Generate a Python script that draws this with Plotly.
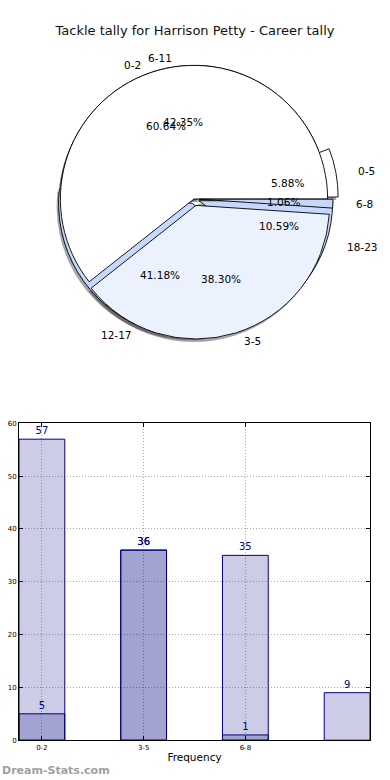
import math
import plotly.graph_objects as go

# ---- data ----
title_text = "Tackle tally for Harrison Petty - Career tally"
cats_a = ["0-2", "3-5", "6-8"]
vals_a = [57, 36, 1]
cats_b = ["0-5", "6-11", "12-17", "18-23"]
vals_b = [5, 36, 35, 9]
pull_a = [0, 0.05, 0.04]
pull_b = [0.08, 0, 0.035, 0.04]
colors_a = ["#ffffff", "#ebf1fd", "#c6d9fc"]
colors_b = ["#ffffff", "#ebf1fd", "#c6d9fc", "#c6d9fc"]
y_ticks = [0, 10, 20, 30, 40, 50, 60]

W, HREF = 390, 780     # layout reference frame (pixels)
H = 784                # figure height
FONT = "DejaVu Sans"

# pie geometry (reference pixels)
CX, CY, R = 194, 196, 135   # drawn pie (circle)
RX, RY = 140, 130            # text layout radii (reference is slightly elliptical)


def fy(y):
    return 1 - y / HREF


def dom(cx, cy, size):
    return dict(x=[(cx - size / 2) / W, (cx + size / 2) / W],
                y=[fy(cy) - size / 2 / H, fy(cy) + size / 2 / H])


def rot(vals):
    # first slice starts at 3 o'clock and runs counterclockwise
    return 90 - 360 * vals[0] / sum(vals)


def mid_angles(vals):
    tot = sum(vals)
    out, acc = [], 0
    for v in vals:
        out.append(2 * math.pi * (acc + v / 2) / tot)
        acc += v
    return out


fig = go.Figure()

# shadows
for labels, vals, pull in [(cats_b, vals_b, pull_b), (cats_a, vals_a, pull_a)]:
    size = 2 * R * (1 + max(pull))
    fig.add_trace(go.Pie(labels=labels, values=vals, pull=pull, sort=False,
                         direction="counterclockwise", rotation=rot(vals),
                         domain=dom(CX - 2, CY + 3, size),
                         marker=dict(colors=["rgba(0,0,0,0.35)"] * len(vals), line=dict(width=0)),
                         textinfo="none", hoverinfo="skip", showlegend=False))

# visible pies
for labels, vals, pull, cols in [(cats_b, vals_b, pull_b, colors_b), (cats_a, vals_a, pull_a, colors_a)]:
    size = 2 * R * (1 + max(pull))
    fig.add_trace(go.Pie(labels=labels, values=vals, pull=pull, sort=False,
                         direction="counterclockwise", rotation=rot(vals),
                         domain=dom(CX, CY, size),
                         marker=dict(colors=cols, line=dict(color="black", width=0.9)),
                         textinfo="none", hoverinfo="skip", showlegend=False))

# pie texts: labels at 1.1 radius, percentages at 0.6 radius (plus explode offset)
annotations = []
for labels, vals, pull in [(cats_b, vals_b, pull_b), (cats_a, vals_a, pull_a)]:
    tot = sum(vals)
    for lab, v, a, p in zip(labels, vals, mid_angles(vals), pull):
        lx = RX * (1.1 + p) * math.cos(a)
        ly = RY * (1.1 + p) * math.sin(a)
        annotations.append(dict(text=lab, x=lx, y=ly, xref="x2", yref="y2", showarrow=False,
                                xanchor="left" if lx > 0 else "right", yanchor="middle",
                                font=dict(family=FONT, size=10.5, color="black")))
        px = RX * (0.6 + p) * math.cos(a)
        py = RY * (0.6 + p) * math.sin(a)
        annotations.append(dict(text=f"{100 * v / tot:.2f}%", x=px, y=py, xref="x2", yref="y2",
                                showarrow=False, xanchor="center", yanchor="middle",
                                font=dict(family=FONT, size=10.5, color="black")))

annotations.append(dict(text="<b>Dream-Stats.com</b>", x=0, y=fy(770), xref="paper", yref="paper",
                        xanchor="left", yanchor="middle", showarrow=False,
                        font=dict(family=FONT, size=11, color="#a0a0a0")))

# bars
bar_fill = "rgba(0,0,128,0.2)"
for cats, vals in [(cats_a, vals_a), (cats_b, vals_b)]:
    fig.add_trace(go.Bar(x=list(range(len(cats))), y=vals, width=0.45,
                         marker=dict(color=bar_fill, line=dict(color="navy", width=1)),
                         text=vals, texttemplate="%{y}", textposition="outside",
                         textfont=dict(family=FONT, size=10, color="navy"),
                         constraintext="none", cliponaxis=False,
                         hoverinfo="skip", showlegend=False))

fig.update_layout(
    width=W, height=H, barmode="overlay",
    margin=dict(l=0, r=0, t=0, b=0),
    paper_bgcolor="white", plot_bgcolor="white",
    font=dict(family=FONT, color="black"),
    title=dict(text=title_text, x=0.5, xanchor="center", y=fy(30), yanchor="middle",
               font=dict(family=FONT, size=13, color="#111")),
    xaxis=dict(domain=[19 / W, 370 / W], range=[-0.225, 3.225],
               tickvals=list(range(len(cats_a))), ticktext=cats_a,
               tickfont=dict(size=7), ticks="inside", ticklen=4, tickcolor="black",
               showgrid=True, gridcolor="#aaaaaa", griddash="1px,2px", gridwidth=1,
               showline=True, linecolor="black", linewidth=1, mirror="ticks",
               zeroline=False,
               title=dict(text="Frequency", font=dict(size=10.5), standoff=3)),
    yaxis=dict(domain=[fy(740), fy(421.5)], range=[0, 60],
               tickvals=y_ticks, tickfont=dict(size=7), ticks="inside", ticklen=4,
               tickcolor="black",
               showgrid=True, gridcolor="#aaaaaa", griddash="1px,2px", gridwidth=1,
               showline=True, linecolor="black", linewidth=1, mirror="ticks",
               zeroline=False),
    # helper axes in reference-pixel units centred on the pie, for the pie's texts
    xaxis2=dict(domain=[0, 1], range=[-CX, W - CX], visible=False, fixedrange=True),
    yaxis2=dict(domain=[0.5, 1], range=[CY - HREF / 2, CY], visible=False, fixedrange=True),
    annotations=annotations,
)

post = """
document.documentElement.style.overflow='hidden';
document.body.style.margin='0';
document.body.style.overflow='hidden';
"""
fig.write_html("out.html", config={"displayModeBar": False}, post_script=post)
